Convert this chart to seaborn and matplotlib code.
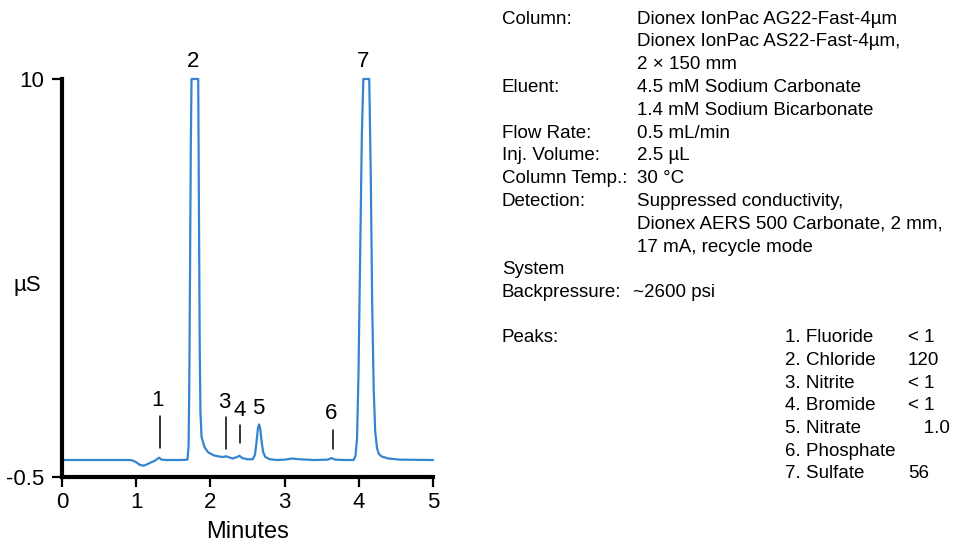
import matplotlib
matplotlib.use('Agg')
import matplotlib.pyplot as plt
import seaborn as sns
import pandas as pd

# chromatogram trace (minutes, µS); the two big peaks are clipped at 10
time = [0.00, 0.90, 0.95, 1.00, 1.05, 1.10, 1.15, 1.20, 1.25, 1.29, 1.31, 1.34, 1.40,
        1.60, 1.69, 1.705, 1.715, 1.725, 1.735, 1.745, 1.835, 1.845, 1.855, 1.865,
        1.88, 1.92, 1.97, 2.05, 2.12, 2.18, 2.21, 2.25, 2.30, 2.36, 2.39, 2.43, 2.50,
        2.57, 2.60, 2.62, 2.64, 2.655, 2.67, 2.69, 2.71, 2.74, 2.80, 2.90, 3.00, 3.10,
        3.20, 3.40, 3.58, 3.63, 3.68, 3.80, 3.93, 3.955, 3.975, 3.995, 4.015, 4.04,
        4.06, 4.14, 4.16, 4.18, 4.20, 4.22, 4.245, 4.27, 4.31, 4.40, 4.55, 5.00]
signal = [-0.06, -0.06, -0.07, -0.12, -0.19, -0.21, -0.17, -0.12, -0.08, -0.02, 0.00,
          -0.05, -0.06, -0.06, -0.05, 0.3, 2.0, 5.0, 8.2, 10.0, 10.0, 6.5, 3.0, 1.2,
          0.55, 0.28, 0.14, 0.06, 0.03, 0.02, 0.04, 0.01, -0.02, 0.02, 0.05, -0.01,
          -0.04, -0.04, 0.08, 0.40, 0.78, 0.88, 0.78, 0.42, 0.15, 0.02, -0.04, -0.06,
          -0.05, -0.02, -0.04, -0.06, -0.05, -0.01, -0.05, -0.06, -0.06, 0.05, 0.5,
          2.2, 5.0, 8.5, 10.0, 10.0, 7.5, 4.0, 1.8, 0.7, 0.25, 0.1, 0.03, -0.02,
          -0.05, -0.06]

# peak numbers and where they sit
peak_ids = ['1', '2', '3', '4', '5', '6', '7']
label_x = [1.29, 1.77, 2.18, 2.40, 2.65, 3.63, 4.06]
label_y = [1.52, 10.45, 1.45, 1.26, 1.31, 1.18, 10.45]
# short marker lines under some labels
marker_x = [1.32, 2.21, 2.40, 3.65]
marker_lo = [0.26, 0.23, 0.39, 0.23]
marker_hi = [1.10, 1.08, 0.87, 0.73]

cond_keys = ['Column:', '', '', 'Eluent:', '', 'Flow Rate:', 'Inj. Volume:',
             'Column Temp.:', 'Detection:', '', '', 'System', 'Backpressure:']
cond_vals = ['Dionex IonPac AG22-Fast-4µm', 'Dionex IonPac AS22-Fast-4µm,',
             '2 × 150 mm', '4.5 mM Sodium Carbonate', '1.4 mM Sodium Bicarbonate',
             '0.5 mL/min', '2.5 µL', '30 °C', 'Suppressed conductivity,',
             'Dionex AERS 500 Carbonate, 2 mm,', '17 mA, recycle mode', '',
             '~2600 psi']
peak_names = ['1. Fluoride', '2. Chloride', '3. Nitrite', '4. Bromide', '5. Nitrate',
              '6. Phosphate', '7. Sulfate']
peak_amounts = ['< 1', '120', '< 1', '< 1', '   1.0', '', '56']

sns.set_style('white')
plt.rcParams['font.family'] = ['Liberation Sans', 'DejaVu Sans']
plt.rcParams['text.color'] = 'black'
plt.rcParams['axes.labelcolor'] = 'black'
plt.rcParams['xtick.color'] = 'black'
plt.rcParams['ytick.color'] = 'black'

df = pd.DataFrame({'Minutes': time, 'uS': signal})

fig = plt.figure(figsize=(9.56, 5.5), dpi=100)
ax = fig.add_axes([0.0649, 0.1333, 0.3881, 0.7231])
sns.lineplot(data=df, x='Minutes', y='uS', color='#3584d0', linewidth=1.6,
             ax=ax, clip_on=False)

for x, lo, hi in zip(marker_x, marker_lo, marker_hi):
    ax.plot([x, x], [lo, hi], color='black', linewidth=1.1)
for pid, x, y in zip(peak_ids, label_x, label_y):
    ax.text(x, y, pid, fontsize=16, ha='center', va='center', clip_on=False)

ax.set_xlim(0, 5)
ax.set_ylim(-0.5, 10)
ax.set_xticks([0, 1, 2, 3, 4, 5])
ax.set_yticks([-0.5, 10])
ax.set_yticklabels(['-0.5', '10'])
ax.tick_params(axis='both', direction='out', length=7, width=1.6, labelsize=16,
               color='black', left=True, bottom=True)
ax.tick_params(axis='y', pad=6)
ax.tick_params(axis='x', pad=4)
for side in ['top', 'right']:
    ax.spines[side].set_visible(False)
for side in ['left', 'bottom']:
    ax.spines[side].set_linewidth(3)
    ax.spines[side].set_color('black')
ax.set_xlabel('Minutes', fontsize=17, labelpad=6)
ax.set_ylabel('')
fig.text(27 / 956, 1 - 285 / 550, 'µS', fontsize=16, ha='center', va='center')

# conditions block
fs = 13.5
y0 = 19
step = 22.8
for i, (k, v) in enumerate(zip(cond_keys, cond_vals)):
    yy = 1 - (y0 + i * step) / 550
    fig.text(502 / 956, yy, k, fontsize=fs, va='center')
    vx = 633 if k == 'Backpressure:' else 637
    fig.text(vx / 956, yy, v, fontsize=fs, va='center')

yp = 338
fig.text(502 / 956, 1 - yp / 550, 'Peaks:', fontsize=fs, va='center')
for i, (n, a) in enumerate(zip(peak_names, peak_amounts)):
    yy = 1 - (yp + i * 22.6) / 550
    fig.text(785 / 956, yy, n, fontsize=fs, va='center')
    fig.text(908 / 956, yy, a, fontsize=fs, va='center')

fig.savefig('out.png', dpi=100)
